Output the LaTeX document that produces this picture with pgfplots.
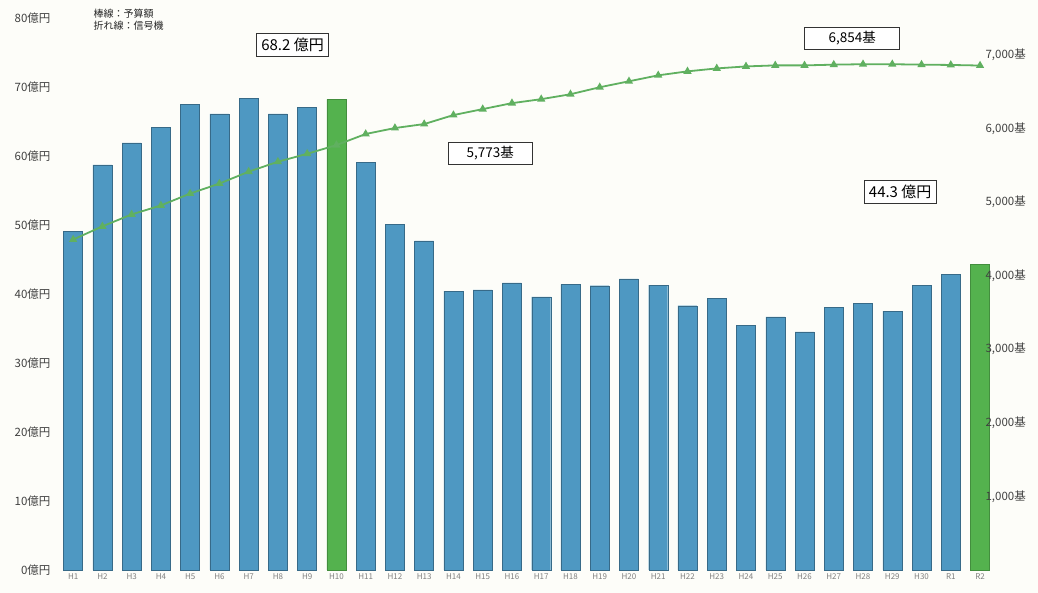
\documentclass[border=0pt]{standalone}
\usepackage{pgfplots}
\pgfplotsset{compat=1.18}
\usepackage{fontspec}
\setmainfont{Noto Sans CJK JP}
\definecolor{bgcol}{RGB}{253,253,249}
\definecolor{barblue}{RGB}{78,152,194}
\definecolor{bargreen}{RGB}{84,178,78}
\definecolor{linegreen}{RGB}{96,176,96}
\begin{document}
\begin{tikzpicture}[x=1pt,y=1pt]
\fill[bgcol] (0,0) rectangle (1038,593);
\begin{axis}[
  at={(55pt,23pt)}, anchor=south west, scale only axis,
  width=930pt, height=552pt,
  xmin=-0.62, xmax=31.17, ymin=0, ymax=80,
  clip=false,
  axis line style={draw=none}, major tick length=0pt,
  ybar, bar width=19pt,
  xtick={0,...,31},
  xticklabels={H1,H2,H3,H4,H5,H6,H7,H8,H9,H10,H11,H12,H13,H14,H15,H16,H17,H18,H19,H20,H21,H22,H23,H24,H25,H26,H27,H28,H29,H30,R1,R2},
  xticklabel style={font=\fontsize{8}{8}\selectfont, text=black!50},
  ytick={0,10,...,80},
  yticklabels={0億円,10億円,20億円,30億円,40億円,50億円,60億円,70億円,80億円},
  yticklabel style={font=\fontsize{11.5}{12}\selectfont, text=black!75, xshift=-1pt},
]
\addplot[fill=barblue, draw=barblue!70!black, bar shift=0pt] coordinates {
(0,49.1) (1,58.7) (2,61.9) (3,64.2) (4,67.5) (5,66.1) (6,68.4) (7,66.1) (8,67.1)
(10,59.1) (11,50.1) (12,47.7) (13,40.4) (14,40.6) (15,41.6) (16,39.6) (17,41.4)
(18,41.2) (19,42.2) (20,41.3) (21,38.3) (22,39.4) (23,35.5) (24,36.7) (25,34.5)
(26,38.1) (27,38.6) (28,37.5) (29,41.3) (30,42.8)
};
\addplot[fill=bargreen, draw=bargreen!80!black, bar shift=0pt] coordinates {
(9,68.2) (31,44.3)
};
\node[draw=black!80, thick, fill=white, inner xsep=5pt, inner ysep=5pt, font=\fontsize{15}{16}\selectfont] at (axis cs:7.5,76.1) {68.2 億円};
\node[draw=black!80, thick, fill=white, inner xsep=18pt, inner ysep=4pt, font=\fontsize{13.5}{14}\selectfont] at (axis cs:14.26,60.4) {5,773基};
\node[draw=black!80, thick, fill=white, inner xsep=24pt, inner ysep=4pt, font=\fontsize{13.5}{14}\selectfont] at (axis cs:26.63,77.1) {6,854基};
\node[draw=black!80, thick, fill=white, inner xsep=5pt, inner ysep=5pt, font=\fontsize{15}{16}\selectfont] at (axis cs:28.27,54.8) {44.3 億円};
\end{axis}
\begin{axis}[
  at={(55pt,23pt)}, anchor=south west, scale only axis,
  width=930pt, height=552pt,
  xmin=-0.62, xmax=31.17, ymin=0, ymax=7500,
  axis y line*=right, axis x line=none,
  axis line style={draw=none}, major tick length=0pt,
  xtick=\empty,
  ytick={1000,2000,3000,4000,5000,6000,7000},
  yticklabels={{1,000基},{2,000基},{3,000基},{4,000基},{5,000基},{6,000基},{7,000基}},
  yticklabel style={font=\fontsize{11.5}{12}\selectfont, text=black!75, xshift=-3pt},
]
\addplot[color=linegreen, line width=1.8pt, mark=triangle*, mark size=3pt, mark options={fill=linegreen, draw=linegreen}] coordinates {
(0,4490) (1,4669) (2,4831) (3,4953) (4,5115) (5,5250) (6,5412) (7,5547) (8,5655)
(9,5773) (10,5924) (11,6005) (12,6059) (13,6181) (14,6262) (15,6343) (16,6397)
(17,6464) (18,6559) (19,6640) (20,6721) (21,6775) (22,6815) (23,6842) (24,6856)
(25,6856) (26,6866) (27,6872) (28,6872) (29,6866) (30,6862) (31,6854)
};
\end{axis}
\node[anchor=north west, align=left, font=\fontsize{10}{12}\selectfont, text=black!85] at (90,587) {棒線：予算額\\折れ線：信号機};
\end{tikzpicture}
\end{document}
